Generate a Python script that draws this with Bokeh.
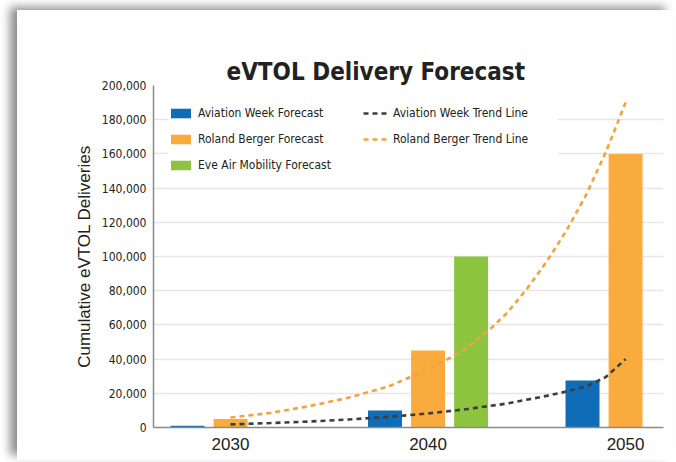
from bokeh.plotting import figure
from bokeh.models import Range1d, FixedTicker, NumeralTickFormatter, Legend, LegendItem, ColumnDataSource, Title
from bokeh.transform import dodge
from bokeh.embed import file_html
from bokeh.resources import INLINE

# ---- data ----
years = [2030, 2040, 2050]
aviation_week = [1000, 10000, 27500]
roland_berger = [5000, 45000, 160000]
eve_years = [2040]
eve_air = [100000]

aw_trend_years = [2030, 2032, 2034, 2036, 2038, 2040, 2042, 2044, 2046, 2047, 2048, 2049, 2050]
aw_trend = [1800, 2600, 3500, 4700, 6200, 8200, 10800, 14000, 18500, 21000, 24000, 29500, 40000]
rb_trend_years = [2030, 2032, 2034, 2036, 2038, 2040, 2041, 2042, 2043, 2044, 2045, 2046, 2047, 2048, 2049, 2050]
rb_trend = [5800, 8500, 12500, 17500, 24000, 34000, 40000, 47000, 56000, 67000, 81000, 97000, 115000, 136000, 161000, 190000]

y_ticks = [0, 20000, 40000, 60000, 80000, 100000, 120000, 140000, 160000, 180000, 200000]
title_text = "eVTOL Delivery Forecast"

BLUE = "#0f6db7"
ORANGE = "#f9ac3d"
GREEN = "#8cc43f"
DARK = "#3d3d3d"
ORANGE_LINE = "#f4a23c"
NARROW = "DejaVu Sans Condensed"

p = figure(width=657, height=450, output_backend="svg", toolbar_location=None,
           x_range=Range1d(2026.1, 2051.92), y_range=Range1d(0, 200000),
           min_border_left=136, min_border_right=11, min_border_top=75, min_border_bottom=33)
p.margin = (10, 0, 0, 17)
p.styles = {"box-shadow": "-8px -4px 9px -1px rgba(0,0,0,0.45)"}

# the built-in title (innermost, next to the frame) is an invisible spacer
p.title.text = "."
p.title.text_font_size = "10px"
p.title.text_alpha = 0.0
p.title.standoff = 16

# the visible title sits above the spacer
main_title = Title(text=title_text, align="left", offset=73, vertical_align="bottom",
                   text_font=NARROW, text_font_style="bold", text_font_size="24px",
                   text_color="#222222", standoff=0)
p.add_layout(main_title, "above")

src = ColumnDataSource(dict(year=years, aw=aviation_week, rb=roland_berger))
eve_src = ColumnDataSource(dict(year=eve_years, eve=eve_air))

bw = 1.72
r_aw = p.vbar(x=dodge("year", -2.18), top="aw", width=bw, source=src, fill_color=BLUE, line_color=None)
r_rb = p.vbar(x="year", top="rb", width=bw, source=src, fill_color=ORANGE, line_color=None)
r_eve = p.vbar(x=dodge("year", 2.18), top="eve", width=bw, source=eve_src, fill_color=GREEN, line_color=None)

r_rbt = p.line(rb_trend_years, rb_trend, line_color=ORANGE_LINE, line_width=2.6, line_dash="5 4")
r_awt = p.line(aw_trend_years, aw_trend, line_color=DARK, line_width=2.6, line_dash="5 4")

legend = Legend(items=[
    LegendItem(label="Aviation Week Forecast", renderers=[r_aw]),
    LegendItem(label="Roland Berger Forecast", renderers=[r_rb]),
    LegendItem(label="Eve Air Mobility Forecast", renderers=[r_eve]),
    LegendItem(label="Aviation Week Trend Line", renderers=[r_awt]),
    LegendItem(label="Roland Berger Trend Line", renderers=[r_rbt]),
], location="top_left", nrows=3)
legend.margin = 15
legend.padding = 8
legend.spacing = 0
legend.glyph_width = 25
legend.glyph_height = 12
legend.label_height = 26
legend.label_width = 165
legend.label_standoff = 5
legend.label_text_font = NARROW
legend.label_text_font_size = "12px"
legend.label_text_color = "#222222"
legend.border_line_color = None
legend.background_fill_color = "white"
legend.background_fill_alpha = 1.0
p.add_layout(legend)

p.xaxis.ticker = FixedTicker(ticks=years)
p.xaxis.major_label_text_font = "Liberation Sans"
p.xaxis.major_label_text_font_size = "17px"
p.xaxis.major_label_text_color = "#222222"
p.xaxis.major_label_standoff = 4
p.xaxis.major_tick_line_color = None
p.xaxis.minor_tick_line_color = None
p.xaxis.axis_line_color = "#8a8a8a"
p.xaxis.axis_line_width = 1.5

p.yaxis.ticker = FixedTicker(ticks=y_ticks)
p.yaxis.formatter = NumeralTickFormatter(format="0,0")
p.yaxis.major_label_text_font = NARROW
p.yaxis.major_label_text_font_size = "12px"
p.yaxis.major_label_text_color = "#222222"
p.yaxis.major_label_standoff = 1
p.yaxis.major_tick_line_color = None
p.yaxis.minor_tick_line_color = None
p.yaxis.axis_line_color = "#8a8a8a"
p.yaxis.axis_line_width = 1.5
p.yaxis.axis_label = "Cumulative eVTOL Deliveries"
p.yaxis.axis_label_text_font = "Liberation Sans"
p.yaxis.axis_label_text_font_style = "normal"
p.yaxis.axis_label_text_font_size = "17px"
p.yaxis.axis_label_text_color = "#222222"
p.yaxis.axis_label_standoff = 5

p.xgrid.grid_line_color = None
p.ygrid.grid_line_color = "#e6e6e6"
p.ygrid.grid_line_width = 1.5
p.outline_line_color = None

open("out.html", "w").write(file_html(p, INLINE))
